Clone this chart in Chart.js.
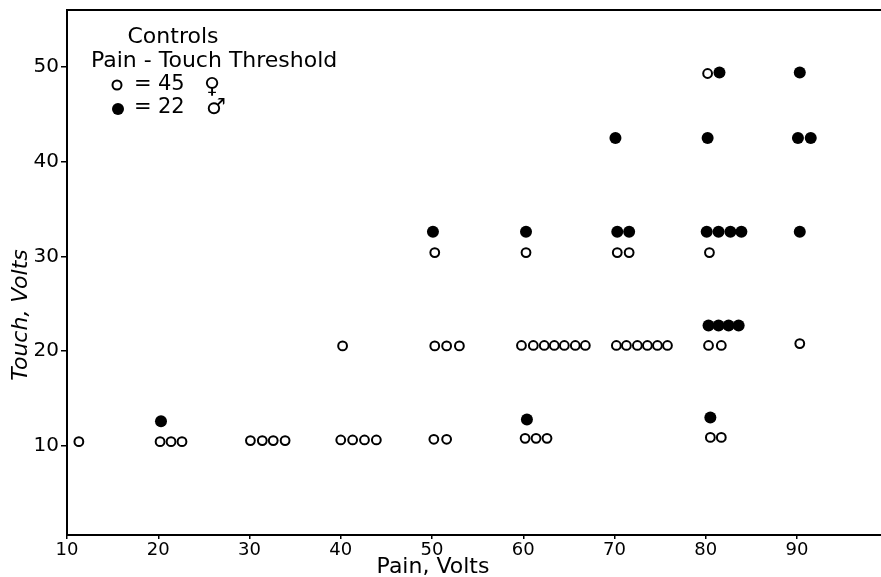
<!DOCTYPE html>
<html lang="en">
<head>
<meta charset="utf-8" />
<title>Controls Pain - Touch Threshold</title>
<script src="https://cdn.jsdelivr.net/npm/chart.js@4.4.1/dist/chart.umd.min.js"></script>
<style>
    html, body { margin: 0; padding: 0; background: #fff; }
    #wrap { width: 881px; height: 577px; position: relative; }
</style>
</head>
<body>
<div id="wrap"><canvas id="myChart"></canvas></div>
<script>
// data: pain volts (x) and touch volts (y), one entry per subject
var femalePain  = [11.3, 20.2, 21.4, 22.6, 30.1, 31.4, 32.6, 33.9, 40.0, 41.3, 42.6, 43.9,
                   50.2, 51.6, 60.2, 61.4, 62.6, 80.5, 81.7,
                   40.2, 50.3, 51.6, 53.0, 59.8, 61.1, 62.3, 63.4, 64.5, 65.7, 66.8,
                   70.2, 71.3, 72.5, 73.6, 74.7, 75.8, 80.3, 81.7, 90.3,
                   50.3, 60.3, 70.3, 71.6, 80.4, 80.2];
var femaleTouch = [10.45, 10.45, 10.45, 10.45, 10.56, 10.56, 10.56, 10.56, 10.63, 10.63, 10.63, 10.63,
                   10.7, 10.7, 10.8, 10.8, 10.8, 10.9, 10.9,
                   20.55, 20.55, 20.55, 20.55, 20.6, 20.6, 20.6, 20.6, 20.6, 20.6, 20.6,
                   20.6, 20.6, 20.6, 20.6, 20.6, 20.6, 20.6, 20.6, 20.8,
                   30.4, 30.4, 30.4, 30.4, 30.4, 49.3];
var malePain    = [20.3, 60.4, 80.5,
                   80.3, 81.4, 82.5, 83.6,
                   50.1, 60.3, 70.3, 71.6, 80.1, 81.4, 82.7, 83.9, 90.3,
                   70.1, 80.2, 90.1, 91.5,
                   81.5, 90.3];
var maleTouch   = [12.6, 12.8, 13.0,
                   22.7, 22.7, 22.7, 22.7,
                   32.6, 32.6, 32.6, 32.6, 32.6, 32.6, 32.6, 32.6, 32.6,
                   42.5, 42.5, 42.5, 42.5,
                   49.4, 49.4];
var xTicks = [10, 20, 30, 40, 50, 60, 70, 80, 90];
var yTicks = [10, 20, 30, 40, 50];

var FONT = "'DejaVu Sans', sans-serif";

function pairs(xs, ys) {
    var res = [];
    for (var i = 0; i < xs.length; i++) {
        res.push({x: xs[i], y: ys[i]});
    }
    return res;
}

// top frame line, axis titles and the key block
var extras = {
    id: 'extras',
    afterDraw: function(chart) {
        var ctx = chart.ctx;
        var a = chart.chartArea;
        ctx.save();
        ctx.strokeStyle = '#000';
        ctx.lineWidth = 2;
        ctx.beginPath();
        ctx.moveTo(a.left - 1, a.top);
        ctx.lineTo(a.right, a.top);
        ctx.stroke();

        ctx.fillStyle = '#000';
        ctx.textBaseline = 'middle';
        ctx.textAlign = 'center';
        ctx.font = '22px ' + FONT;
        ctx.fillText('Pain, Volts', 433, 567);

        ctx.save();
        ctx.translate(21, 315);
        ctx.rotate(-Math.PI / 2);
        ctx.font = 'italic 22px ' + FONT;
        ctx.fillText('Touch, Volts', 0, 0);
        ctx.restore();

        ctx.font = '22px ' + FONT;
        ctx.fillText('Controls', 173, 37);
        ctx.textAlign = 'left';
        ctx.fillText('Pain - Touch Threshold', 91, 61);
        ctx.font = '21px ' + FONT;
        ctx.fillText('=', 134, 85);
        ctx.fillText('45', 158, 85);
        ctx.fillText('=', 134, 108);
        ctx.fillText('22', 158, 108);
        ctx.font = '22px ' + FONT;
        ctx.fillText('\u2640', 204, 87);
        ctx.fillText('\u2642', 206, 108);

        ctx.beginPath();
        ctx.arc(117, 85, 4.5, 0, Math.PI * 2);
        ctx.lineWidth = 2;
        ctx.stroke();
        ctx.beginPath();
        ctx.arc(118, 109, 6, 0, Math.PI * 2);
        ctx.fill();
        ctx.restore();
    }
};

var ctx = document.getElementById('myChart');
var myChart = new Chart(ctx, {
    type: 'scatter',
    data: {
        datasets: [{
            label: '22 \u2642',
            data: pairs(malePain, maleTouch),
            pointRadius: 6,
            pointBorderWidth: 0,
            pointBackgroundColor: '#000',
            pointBorderColor: '#000'
        }, {
            label: '45 \u2640',
            data: pairs(femalePain, femaleTouch),
            pointRadius: 4.4,
            pointBorderWidth: 2,
            pointBackgroundColor: '#fff',
            pointBorderColor: '#000'
        }]
    },
    options: {
        responsive: true,
        maintainAspectRatio: false,
        animation: false,
        events: [],
        layout: { autoPadding: false, padding: { top: 10, left: 0, right: 0, bottom: 0 } },
        plugins: {
            legend: { display: false },
            tooltip: { enabled: false }
        },
        scales: {
            x: {
                type: 'linear',
                min: 10,
                max: 99.2,
                afterBuildTicks: function(scale) {
                    scale.ticks = xTicks.map(function(v) { return {value: v}; });
                },
                afterFit: function(scale) {
                    scale.height = 42;
                    scale.paddingLeft = 0;
                    scale.paddingRight = 0;
                },
                border: { display: true, color: '#000', width: 2 },
                grid: { display: true, drawOnChartArea: false, drawTicks: true, tickLength: 4, color: '#000', lineWidth: 1.5 },
                ticks: { color: '#000', font: { family: FONT, size: 18 }, padding: 1, maxRotation: 0, autoSkip: false }
            },
            y: {
                type: 'linear',
                min: 0.6,
                max: 56,
                afterBuildTicks: function(scale) {
                    scale.ticks = yTicks.map(function(v) { return {value: v}; });
                },
                afterFit: function(scale) {
                    scale.width = 67;
                    scale.paddingTop = 0;
                    scale.paddingBottom = 0;
                },
                border: { display: true, color: '#000', width: 2 },
                grid: { display: true, drawOnChartArea: false, drawTicks: true, tickLength: 6, color: '#000', lineWidth: 1.5 },
                ticks: { color: '#000', font: { family: FONT, size: 20 }, padding: 2, autoSkip: false }
            }
        }
    },
    plugins: [extras]
});
</script>
</body>
</html>
